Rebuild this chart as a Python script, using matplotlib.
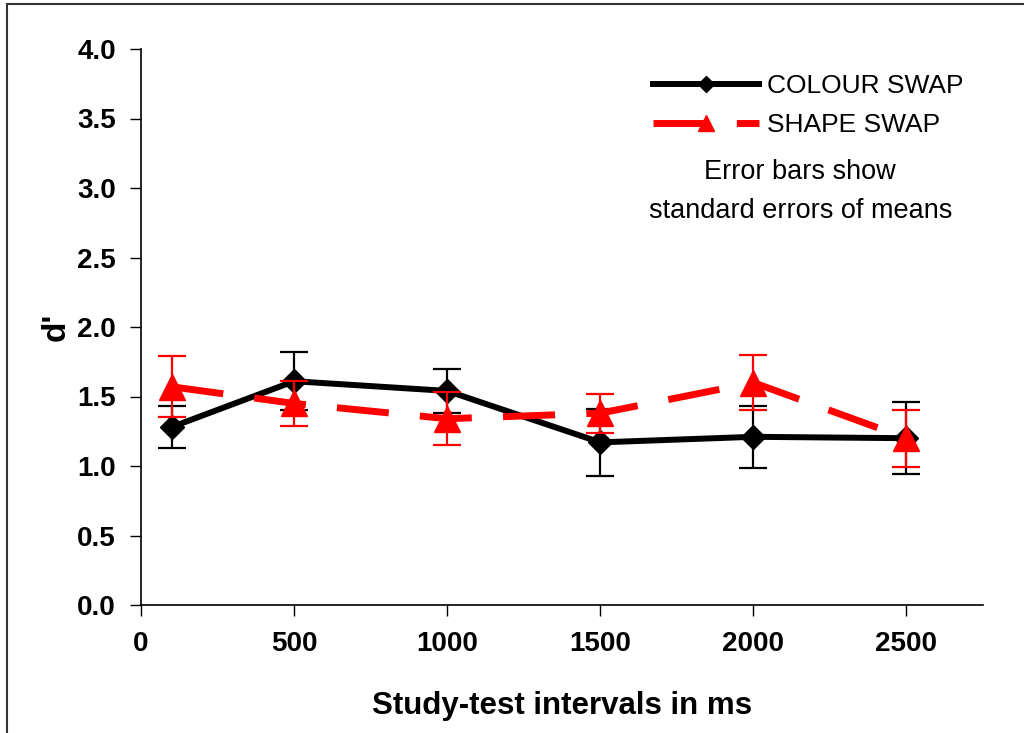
import matplotlib
matplotlib.use("Agg")
import matplotlib.pyplot as plt
from matplotlib import font_manager
from matplotlib.lines import Line2D
from matplotlib.patches import Rectangle

names = {f.name for f in font_manager.fontManager.ttflist}
fam = 'Liberation Sans Narrow' if 'Liberation Sans Narrow' in names else 'Liberation Sans'
plt.rcParams['font.family'] = [fam, 'DejaVu Sans']

intervals = [100, 500, 1000, 1500, 2000, 2500]
colour_swap = [1.28, 1.61, 1.54, 1.17, 1.21, 1.20]
colour_se = [0.15, 0.21, 0.16, 0.24, 0.225, 0.26]
shape_swap = [1.57, 1.45, 1.34, 1.38, 1.60, 1.20]
shape_se = [0.22, 0.16, 0.19, 0.14, 0.20, 0.205]
xticks = [0, 500, 1000, 1500, 2000, 2500]
yticks = [0.0, 0.5, 1.0, 1.5, 2.0, 2.5, 3.0, 3.5, 4.0]

fig = plt.figure(figsize=(10.24, 7.33), dpi=100)
ax = fig.add_axes([141/1024, 1-605/733, (983-141)/1024, (605-49)/733])

ax.errorbar(intervals, colour_swap, yerr=colour_se, color='black', lw=4.3,
            marker='D', ms=12, elinewidth=1.6, capsize=10, capthick=1.6, zorder=3)
ax.errorbar(intervals, shape_swap, yerr=shape_se, color='red', lw=5,
            marker='^', ms=19, elinewidth=1.6, capsize=10, capthick=1.6,
            dashes=(7.5, 4.5), zorder=4)

ax.set_xlim(0, 2750)
ax.set_ylim(0, 4.0)
ax.set_xticks(xticks)
ax.set_yticks(yticks)
ax.set_xticklabels([str(v) for v in xticks])
ax.set_yticklabels([f"{v:.1f}" for v in yticks])
for s in ['top', 'right']:
    ax.spines[s].set_visible(False)
for s in ['left', 'bottom']:
    ax.spines[s].set_linewidth(1.2)
ax.tick_params(axis='both', direction='out', length=8, width=1, labelsize=20)
ax.tick_params(axis='x', pad=11)
ax.tick_params(axis='y', pad=10)
for lab in ax.get_xticklabels() + ax.get_yticklabels():
    lab.set_fontweight('bold')

ax.set_xlabel('Study-test intervals in ms', fontsize=22.5, fontweight='bold', labelpad=24)
ax.set_ylabel("d'", fontsize=24, fontweight='bold', labelpad=4)

handles = [Line2D([], [], color='black', lw=4.3, marker='D', ms=8),
           Line2D([], [], color='red', lw=5, marker='^', ms=12, dashes=(7.5, 4.5))]
leg = ax.legend(handles, ['COLOUR SWAP', 'SHAPE SWAP'], loc='upper left',
                bbox_to_anchor=(0.58, 0.997), frameon=False, fontsize=19,
                handlelength=4.0, handletextpad=0.3, labelspacing=0.55)

ax.text(0.783, 0.744, 'Error bars show\nstandard errors of means', transform=ax.transAxes,
        ha='center', va='center', fontsize=19.5, linespacing=1.62)

fig.patches.append(Rectangle((7/1024, -0.1), 1.2, 1 - 4/733 + 0.1, transform=fig.transFigure,
                             fill=False, edgecolor='#333333', lw=1.5))

fig.savefig('out.png', dpi=100)
